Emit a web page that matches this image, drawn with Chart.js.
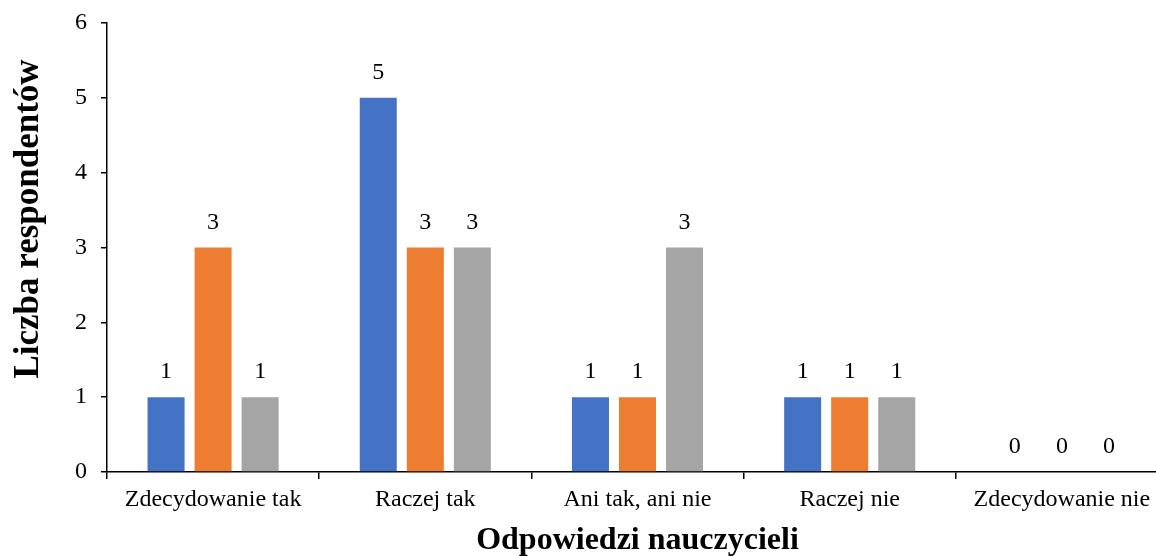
<!DOCTYPE html>
<html>
<head>
<meta charset="utf-8">
<script src="https://cdn.jsdelivr.net/npm/chart.js@4/dist/chart.umd.min.js"></script>
<style>
  html, body { margin: 0; padding: 0; background: #fff; overflow: hidden; }
  canvas { display: block; }
</style>
</head>
<body>
<canvas id="barChart" width="1170" height="556"></canvas>
<script>
const categories = ['Zdecydowanie tak', 'Raczej tak', 'Ani tak, ani nie', 'Raczej nie', 'Zdecydowanie nie'];
const seriesBlue = [1, 5, 1, 1, 0];
const seriesOrange = [3, 3, 1, 1, 0];
const seriesGray = [1, 3, 3, 1, 0];
const yTicks = [0, 1, 2, 3, 4, 5, 6];

const serif = '"Liberation Serif", "Times New Roman", serif';

// value labels above every bar, zeros included
const valueLabels = {
  id: 'valueLabels',
  afterDatasetsDraw(chart) {
    const ctx = chart.ctx;
    ctx.save();
    ctx.font = '24px ' + serif;
    ctx.fillStyle = '#000';
    ctx.textAlign = 'center';
    ctx.textBaseline = 'middle';
    chart.data.datasets.forEach((ds, i) => {
      chart.getDatasetMeta(i).data.forEach((bar, j) => {
        ctx.fillText(String(ds.data[j]), bar.x, bar.y - 25);
      });
    });
    ctx.restore();
  }
};

// y title sits a bit above the axis middle, so it is drawn by hand
const yTitle = {
  id: 'yTitle',
  afterDraw(chart) {
    const ctx = chart.ctx;
    ctx.save();
    ctx.translate(29, 219);
    ctx.rotate(-Math.PI / 2);
    ctx.font = 'bold 35px ' + serif;
    ctx.fillStyle = '#000';
    ctx.textAlign = 'center';
    ctx.textBaseline = 'middle';
    ctx.fillText('Liczba respondentów', 0, 0);
    ctx.restore();
  }
};

new Chart(document.getElementById('barChart'), {
  type: 'bar',
  data: {
    labels: categories,
    datasets: [
      { label: 'Seria 1', data: seriesBlue, backgroundColor: '#4472C4' },
      { label: 'Seria 2', data: seriesOrange, backgroundColor: '#ED7D31' },
      { label: 'Seria 3', data: seriesGray, backgroundColor: '#A5A5A5' }
    ]
  },
  options: {
    responsive: false,
    animation: false,
    categoryPercentage: 0.665,
    barPercentage: 0.787,
    layout: { padding: { top: 23, right: 2, left: 0, bottom: 0 } },
    plugins: {
      legend: { display: false },
      tooltip: { enabled: false }
    },
    scales: {
      x: {
        grid: { display: true, drawOnChartArea: false, drawTicks: true, tickLength: 7, color: '#000', lineWidth: 1.5 },
        border: { display: true, color: '#000', width: 1.5 },
        ticks: { color: '#000', font: { family: serif, size: 24 }, padding: 6, maxRotation: 0, autoSkip: false },
        title: { display: true, text: 'Odpowiedzi nauczycieli', color: '#000', font: { family: serif, size: 32, weight: 'bold', lineHeight: 0.95 }, padding: { top: 0, bottom: 0 } },
        afterFit(scale) { scale.height = 84; }
      },
      y: {
        min: 0,
        max: 6,
        afterBuildTicks(scale) { scale.ticks = yTicks.map(v => ({ value: v })); },
        grid: { display: true, drawOnChartArea: false, drawTicks: true, tickLength: 6, color: '#000', lineWidth: 1.5 },
        border: { display: true, color: '#000', width: 1.5 },
        ticks: { color: '#000', font: { family: serif, size: 24 }, padding: 14 },
        afterFit(scale) {
          scale.width = 107;
          scale.paddingTop = 0;
          scale.paddingBottom = 0;
        }
      }
    }
  },
  plugins: [valueLabels, yTitle]
});
</script>
</body>
</html>
